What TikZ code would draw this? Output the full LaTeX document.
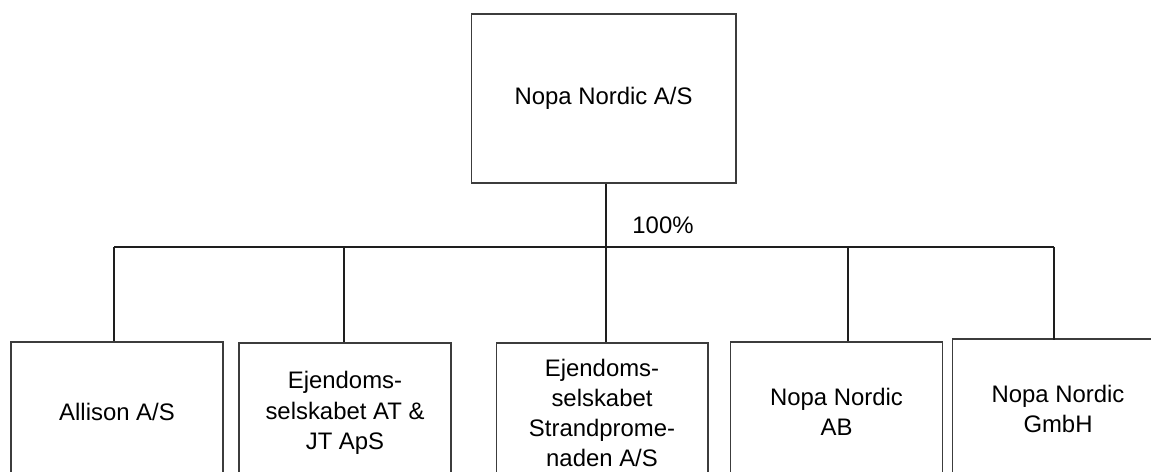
\documentclass[tikz,border=0pt]{standalone}
\usepackage{fontspec}
\setmainfont{Liberation Sans}
\usepackage{xcolor}
\definecolor{cLine}{HTML}{1E1E1E}
\definecolor{cBox}{HTML}{3C3C3C}
\usepackage{tikz}
\usetikzlibrary{positioning}
\tikzset{
  org-box/.style={draw=cBox,line width=0.6pt,minimum width=4.24cm,
    minimum height=2.8cm,inner sep=0pt,align=center,
    font=\fontsize{13.6}{17.2}\selectfont},
  org-top/.style={org-box,minimum width=5.3cm,minimum height=3.38cm},
  link/.style={draw=cLine,line width=0.85pt},
}

\begin{document}
\begin{tikzpicture}[x=0.02cm,y=-0.02cm]
  \useasboundingbox (0,0) rectangle (1151,472);
  \clip (0,0) rectangle (1151,472);
  % moderselskab
  \node[org-top]             (parent) at (603.5,98.5) {Nopa Nordic A/S};
  \node[font=\fontsize{13.6}{17.2}\selectfont] (pct) at (663,225) {100\%};
  % datterselskaber
  \node[org-box]             (allison) at (117,412)   {Allison A/S};
  \node[org-box]             (atjt)    at (345,413)   {Ejendoms-\\selskabet AT \&\\JT ApS};
  \node[org-box]             (strand)  at (602,413)   {Ejendoms-\\selskabet\\Strandprome-\\naden A/S};
  \node[org-box]             (ab)      at (836.5,412) {Nopa Nordic\\AB};
  \node[org-box]             (gmbh)    at (1058,409)  {Nopa Nordic\\GmbH};
  % samleskinne
  \coordinate (bus)  at (606,247);
  \coordinate (busA) at (114,247);
  \coordinate (busB) at (344,247);
  \coordinate (busD) at (848,247);
  \coordinate (busE) at (1054,247);
  \draw[link] (parent.south -| bus) -- (bus);
  \draw[link] (busA) -- (busE);
  \draw[link] (busA) -- (busA |- allison.north);
  \draw[link] (busB) -- (busB |- atjt.north);
  \draw[link] (bus)  -- (bus |- strand.north);
  \draw[link] (busD) -- (busD |- ab.north);
  \draw[link] (busE) -- ([yshift=-1pt]busE |- gmbh.north);
\end{tikzpicture}
\end{document}
